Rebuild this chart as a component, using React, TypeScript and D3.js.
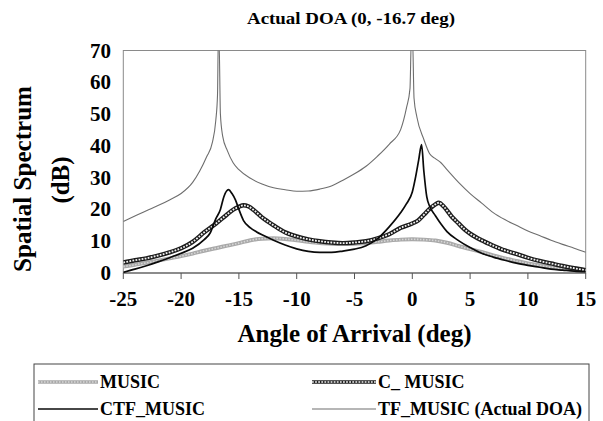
import React from "react";
import * as d3 from "d3";

const xTicks = [-25, -20, -15, -10, -5, 0, 5, 10, 15];
const yTicks = [0, 10, 20, 30, 40, 50, 60, 70];

const titleText = "Actual DOA (0, -16.7 deg)";
const xTitle = "Angle of Arrival (deg)";
const yTitle1 = "Spatial Spectrum";
const yTitle2 = "(dB)";

const musicData: [number, number][] = [
  [-25, 2.0], [-24, 2.6], [-23, 3.2], [-22, 3.9], [-21, 4.6], [-20, 5.3], [-19, 6.1],
  [-18, 7.0], [-17, 7.8], [-16, 8.6], [-15, 9.4], [-14, 10.3], [-13, 10.8], [-12, 10.9],
  [-11, 10.7], [-10, 10.3], [-9, 9.8], [-8, 9.4], [-7, 9.2], [-6, 9.1], [-5, 9.2],
  [-4, 9.4], [-3, 9.8], [-2, 10.2], [-1, 10.5], [0, 10.6], [1, 10.5], [2, 10.2],
  [3, 9.5], [4, 8.5], [5, 7.5], [6, 6.6], [7, 5.5], [8, 4.6], [9, 3.8], [10, 3.0],
  [11, 2.4], [12, 1.8], [13, 1.4], [14, 1.1], [15, 0.9],
];

const cMusicData: [number, number][] = [
  [-25, 3.3], [-24, 4.0], [-23, 4.6], [-22, 5.5], [-21, 6.5], [-20, 7.8], [-19, 9.8],
  [-18, 12.8], [-17, 15.5], [-16, 18.5], [-15.5, 19.9], [-15, 20.8], [-14.6, 21.3],
  [-14.2, 21.0], [-13.75, 19.9], [-13, 17.5], [-12.5, 16.2], [-12, 15.0], [-11, 12.8],
  [-10, 11.5], [-9, 10.6], [-8, 10.0], [-7, 9.6], [-6, 9.4], [-5, 9.6], [-4, 10.0],
  [-3, 10.9], [-2, 12.2], [-1, 14.2], [0, 15.6], [0.5, 16.5], [1, 18.3], [1.5, 20.2],
  [2, 21.6], [2.3, 22.1], [2.7, 21.0], [3.4, 17.8], [4, 15.6], [4.56, 13.6], [5, 12.4],
  [6, 10.3], [7, 8.6], [8, 7.1], [9, 6.0], [10, 4.8], [11, 3.8], [12, 3.0], [13, 2.2],
  [14, 1.5], [15, 0.9],
];

const ctfMusicData: [number, number][] = [
  [-25, 0.2], [-24, 1.2], [-23, 2.3], [-22, 3.5], [-21, 4.8], [-20, 6.2], [-19, 7.8],
  [-18, 10.5], [-17.5, 12.5], [-17, 17.0], [-16.6, 20.0], [-16.3, 24.0], [-15.9, 26.2],
  [-15.6, 25.0], [-15.3, 23.0], [-15, 20.0], [-14.6, 16.5], [-14, 14.2], [-13.5, 13.0],
  [-13, 12.0], [-12, 10.3], [-11, 8.8], [-10, 7.6], [-9, 6.8], [-8, 6.5], [-7, 6.5],
  [-6, 6.9], [-5, 7.5], [-4, 8.6], [-3, 10.8], [-2, 14.5], [-1, 19.0], [-0.5, 21.8],
  [0, 25.5], [0.3, 30.5], [0.55, 35.5], [0.8, 40.4], [1.0, 32.0], [1.25, 24.0],
  [1.5, 21.0], [2, 18.0], [2.5, 15.3], [3, 13.0], [4, 10.2], [5, 8.0], [6, 6.2],
  [7, 5.0], [8, 4.0], [9, 3.1], [10, 2.4], [11, 1.8], [12, 1.2], [13, 0.9], [14, 0.6],
  [15, 0.4],
];

const tfMusicData: [number, number][] = [
  [-25, 16.2], [-24, 17.9], [-23, 19.6], [-22, 21.2], [-21, 23.0], [-20, 25.0],
  [-19, 28.5], [-18.4, 32.0], [-17.8, 36.5], [-17.3, 41.0], [-17.0, 48.0],
  [-16.85, 56.0], [-16.78, 74.0], [-16.72, 74.0], [-16.6, 50.0], [-16.4, 43.0],
  [-16, 38.5], [-15.5, 34.7], [-15, 32.5], [-14, 29.8], [-13, 28.0], [-12, 26.8],
  [-11, 26.2], [-10, 25.7], [-9, 25.8], [-8, 26.4], [-7, 27.4], [-6, 29.2], [-5, 31.2],
  [-4, 33.6], [-3, 36.8], [-2, 40.5], [-1, 45.2], [-0.5, 52.0], [-0.2, 58.0],
  [-0.08, 74.0], [0.02, 74.0], [0.15, 55.0], [0.4, 49.0], [1, 42.0], [1.5, 37.5],
  [2, 36.0], [2.5, 34.6], [3, 32.5], [4, 28.5], [5, 25.0], [6, 22.0], [7, 19.0],
  [8, 16.8], [9, 15.0], [10, 13.2], [11, 11.8], [12, 10.3], [13, 9.0], [14, 7.8],
  [15, 6.5],
];

const legendLabels = ["MUSIC", "C_ MUSIC", "CTF_MUSIC", "TF_MUSIC (Actual DOA)"];

const W = 603;
const H = 421;
const plot = { left: 123.3, right: 585.7, top: 50.5, bottom: 273 };
const FONT = "'Liberation Serif', 'Times New Roman', serif";

function SeriesPath({ d, kind, thin }: { d: string; kind: string; thin?: boolean }) {
  if (kind === "music") {
    return (
      <g>
        <path d={d} fill="none" stroke="#a9a9a9" strokeWidth={thin ? 3.5 : 4} strokeLinejoin="round" />
        <path d={d} fill="none" stroke="#d6d6d6" strokeWidth={1.6} strokeDasharray="1.5 1.5" />
      </g>
    );
  }
  if (kind === "cmusic") {
    return (
      <g>
        <path d={d} fill="none" stroke="#1c1c1c" strokeWidth={thin ? 3.6 : 4.4} strokeLinejoin="round" />
        <path d={d} fill="none" stroke="#f2f2f2" strokeWidth={thin ? 1.4 : 1.8} strokeDasharray="1.8 1.3" />
      </g>
    );
  }
  if (kind === "ctf") {
    return <path d={d} fill="none" stroke="#0a0a0a" strokeWidth={1.7} strokeLinejoin="round" />;
  }
  return <path d={d} fill="none" stroke="#6e6e6e" strokeWidth={1.1} strokeLinejoin="round" />;
}

export default function App() {
  const x = d3.scaleLinear().domain([-25, 15]).range([plot.left, plot.right]);
  const y = d3.scaleLinear().domain([0, 70]).range([plot.bottom, plot.top]);
  const line = d3
    .line<[number, number]>()
    .x((p) => x(p[0]))
    .y((p) => y(p[1]))
    .curve(d3.curveMonotoneX);

  const series = [
    { data: musicData, kind: "music" },
    { data: cMusicData, kind: "cmusic" },
    { data: ctfMusicData, kind: "ctf" },
    { data: tfMusicData, kind: "tf" },
  ];

  const legendItems = [
    { label: legendLabels[0], kind: "music", sx: 38, tx: 100, ty: 388 },
    { label: legendLabels[1], kind: "cmusic", sx: 312, tx: 378, ty: 388 },
    { label: legendLabels[2], kind: "ctf", sx: 38, tx: 100, ty: 415 },
    { label: legendLabels[3], kind: "tf", sx: 312, tx: 378, ty: 415 },
  ];

  return (
    <svg
      width={W}
      height={H}
      style={{ position: "absolute", left: 0, top: 0, background: "#fff" }}
      fontFamily={FONT}
    >
      <defs>
        <clipPath id="plotClip">
          <rect x={plot.left} y={plot.top} width={plot.right - plot.left} height={plot.bottom - plot.top} />
        </clipPath>
      </defs>
      <rect x={0} y={0} width={W} height={H} fill="#fff" />

      <text x={351} y={24} textAnchor="middle" fontSize={16} fontWeight="bold" textLength={208} lengthAdjust="spacingAndGlyphs">
        {titleText}
      </text>

      <rect
        x={plot.left}
        y={plot.top}
        width={plot.right - plot.left}
        height={plot.bottom - plot.top}
        fill="none"
        stroke="#8a8a8a"
        strokeWidth={1}
      />
      <line x1={plot.left} x2={plot.right} y1={plot.bottom} y2={plot.bottom} stroke="#555" strokeWidth={1.2} />

      {xTicks.map((t) => (
        <g key={"xt" + t}>
          <line x1={x(t)} x2={x(t)} y1={plot.bottom} y2={plot.bottom + 6} stroke="#555" strokeWidth={1} />
          <text x={x(t)} y={306} textAnchor="middle" fontSize={21} fontWeight="bold">
            {t}
          </text>
        </g>
      ))}
      {yTicks.map((t) => (
        <text key={"yt" + t} x={111} y={y(t) + 7} textAnchor="end" fontSize={21} fontWeight="bold">
          {t}
        </text>
      ))}

      <text
        transform={`translate(31,179) rotate(-90)`}
        textAnchor="middle"
        fontSize={25}
        fontWeight="bold"
        textLength={186}
        lengthAdjust="spacingAndGlyphs"
      >
        {yTitle1}
      </text>
      <text transform={`translate(69,180) rotate(-90)`} textAnchor="middle" fontSize={25} fontWeight="bold">
        {yTitle2}
      </text>

      <text x={354.5} y={342} textAnchor="middle" fontSize={25} fontWeight="bold">
        {xTitle}
      </text>

      <g clipPath="url(#plotClip)">
        {series.map((s) => (
          <SeriesPath key={s.kind} d={line(s.data) || ""} kind={s.kind} />
        ))}
      </g>

      <rect x={34} y={364} width={555} height={70} fill="none" stroke="#444" strokeWidth={1} />
      {legendItems.map((it) => (
        <g key={it.label}>
          <SeriesPath d={`M${it.sx},${it.ty - 6}H${it.tx - 2}`} kind={it.kind} thin />
          <text x={it.tx} y={it.ty} fontSize={18} fontWeight="bold">
            {it.label}
          </text>
        </g>
      ))}
    </svg>
  );
}
